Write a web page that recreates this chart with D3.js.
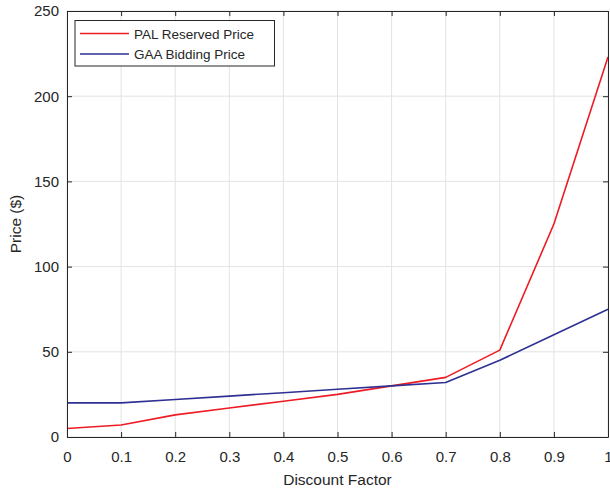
<!DOCTYPE html>
<html>
<head>
<meta charset="utf-8">
<script src="https://cdn.jsdelivr.net/npm/d3@7"></script>
<style>
  html, body { margin: 0; padding: 0; background: #fff; }
  svg text { font-family: "Liberation Sans", Arial, Helvetica, sans-serif; fill: #262626; }
</style>
</head>
<body>
<svg id="chart" width="610" height="491"></svg>
<script>
// Discount factor on the x axis
const discount = [0, 0.1, 0.2, 0.3, 0.4, 0.5, 0.6, 0.7, 0.8, 0.9, 1.0];
// Price series ($)
const palReserved = [5, 7, 13, 17, 21, 25, 30, 35, 51, 125, 223];
const gaaBidding = [20, 20, 22, 24, 26, 28, 30, 32, 45, 60, 75];
const seriesNames = ["PAL Reserved Price", "GAA Bidding Price"];
const seriesColors = ["#ed1c24", "#2e3192"];
const xTicks = [0, 0.1, 0.2, 0.3, 0.4, 0.5, 0.6, 0.7, 0.8, 0.9, 1];
const yTicks = [0, 50, 100, 150, 200, 250];

const svg = d3.select("#chart");
const plotLeft = 67, plotRight = 608, plotTop = 11, plotBottom = 437;

const x = d3.scaleLinear().domain([0, 1]).range([plotLeft, plotRight]);
const y = d3.scaleLinear().domain([0, 250]).range([plotBottom, plotTop]);

// Grid
const grid = svg.append("g").attr("stroke", "#e3e3e3").attr("stroke-width", 1);
xTicks.forEach(t => grid.append("line")
  .attr("x1", x(t)).attr("x2", x(t)).attr("y1", plotTop).attr("y2", plotBottom));
yTicks.forEach(t => grid.append("line")
  .attr("x1", plotLeft).attr("x2", plotRight).attr("y1", y(t)).attr("y2", y(t)));

// Series lines
const line = d3.line().x((d, i) => x(discount[i])).y(d => y(d));
[palReserved, gaaBidding].forEach((vals, k) => {
  svg.append("path").datum(vals)
    .attr("fill", "none")
    .attr("stroke", seriesColors[k])
    .attr("stroke-width", 1.6)
    .attr("stroke-linejoin", "round")
    .attr("d", line);
});

// Axes (box with inward ticks on all sides)
const fmtX = d => d === 0 ? "0" : d === 1 ? "1" : d3.format(".1f")(d);
const axisStyle = g => {
  g.select(".domain").attr("stroke", "#262626").attr("stroke-width", 1);
  g.selectAll(".tick line").attr("stroke", "#262626");
  g.selectAll("text").style("font-size", "15px").attr("fill", "#262626")
    .attr("font-family", "Liberation Sans, Arial, sans-serif");
};
svg.append("g").attr("transform", `translate(0,${plotBottom})`)
  .call(d3.axisBottom(x).tickValues(xTicks).tickFormat(fmtX).tickSizeInner(-5).tickSizeOuter(0).tickPadding(14))
  .call(axisStyle);
svg.append("g").attr("transform", `translate(0,${plotTop})`)
  .call(d3.axisTop(x).tickValues(xTicks).tickFormat("").tickSizeInner(-5).tickSizeOuter(0))
  .call(axisStyle);
svg.append("g").attr("transform", `translate(${plotLeft},0)`)
  .call(d3.axisLeft(y).tickValues(yTicks).tickSizeInner(-5).tickSizeOuter(0).tickPadding(8))
  .call(axisStyle);
svg.append("g").attr("transform", `translate(${plotRight},0)`)
  .call(d3.axisRight(y).tickValues(yTicks).tickFormat("").tickSizeInner(-5).tickSizeOuter(0))
  .call(axisStyle);

// Axis labels
svg.append("text").attr("x", (plotLeft + plotRight) / 2).attr("y", 484.5)
  .attr("text-anchor", "middle").style("font-size", "15.5px").text("Discount Factor");
svg.append("text").attr("transform", `translate(21,${(plotTop + plotBottom) / 2}) rotate(-90)`)
  .attr("text-anchor", "middle").style("font-size", "15.5px").text("Price ($)");

// Legend
const lg = svg.append("g");
lg.append("rect").attr("x", 75).attr("y", 20.5).attr("width", 199.5).attr("height", 45.5)
  .attr("fill", "#fff").attr("stroke", "#262626").attr("stroke-width", 1);
seriesNames.forEach((name, i) => {
  const yy = 33.5 + i * 20.5;
  lg.append("line").attr("x1", 80).attr("x2", 129).attr("y1", yy).attr("y2", yy)
    .attr("stroke", seriesColors[i]).attr("stroke-width", 1.6);
  lg.append("text").attr("x", 134).attr("y", yy + 5).style("font-size", "13.5px").text(name);
});
</script>
</body>
</html>
